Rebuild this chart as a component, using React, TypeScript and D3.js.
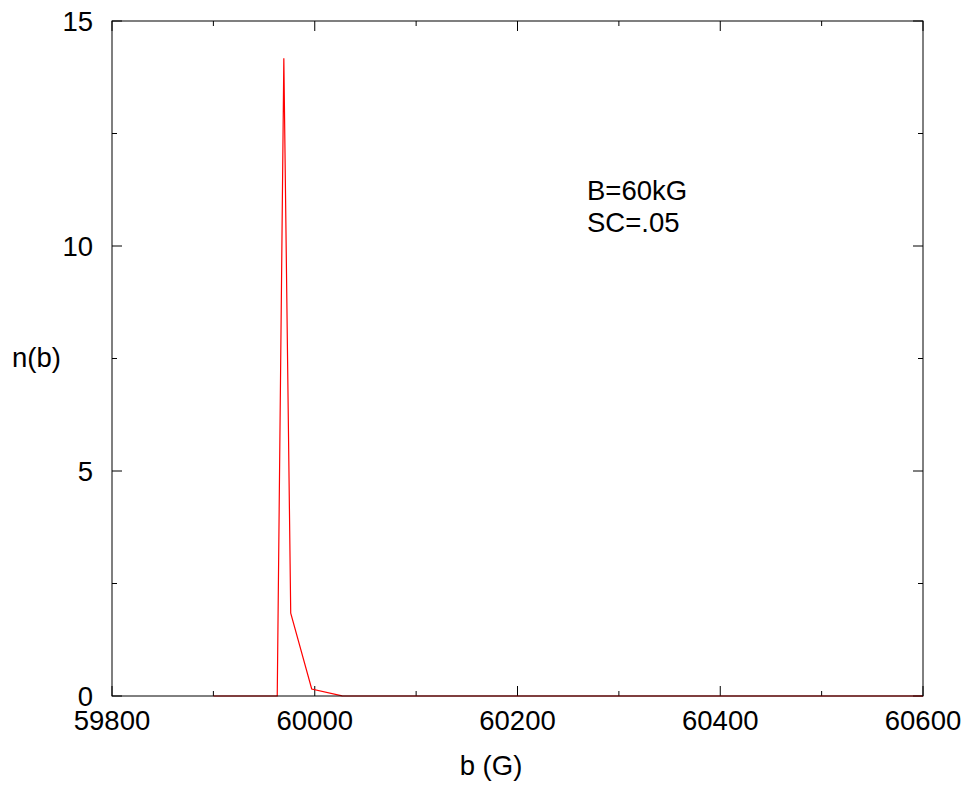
import React from "react";
import * as d3 from "d3";

const bValues = [59900, 59963, 59969.5, 59976.3, 59997, 60027, 60100, 60300, 60600];
const nValues = [0, 0, 14.17, 1.84, 0.155, 0.004, 0, 0, 0];
const xMajorTicks = [59800, 60000, 60200, 60400, 60600];
const xMinorTicks = [59900, 60100, 60300, 60500];
const yMajorTicks = [0, 5, 10, 15];
const yMinorTicks = [2.5, 7.5, 12.5];
const annotation = ["B=60kG", "SC=.05"];

const W = 971, H = 786;
const L = 112, R = 923, T = 21, B = 696;
const FONT = "'Liberation Sans', Arial, sans-serif";

export default function App() {
  const x = d3.scaleLinear().domain([59800, 60600]).range([L, R]);
  const y = d3.scaleLinear().domain([0, 15]).range([B, T]);
  const data = bValues.map((b, i) => [b, nValues[i]] as [number, number]);
  const line = d3.line<[number, number]>().x(d => x(d[0])).y(d => y(d[1]));
  const fs = 27.5;
  return (
    <svg width={W} height={H} style={{ position: "absolute", left: 0, top: 0, background: "#fff" }}>
      <rect x={0} y={0} width={W} height={H} fill="#fff" />
      {/* ticks */}
      {xMajorTicks.map(t => (
        <g key={"xm" + t}>
          <line x1={x(t)} x2={x(t)} y1={B} y2={B - 10} stroke="#000" />
          <line x1={x(t)} x2={x(t)} y1={T} y2={T + 10} stroke="#000" />
          <text x={x(t)} y={730} textAnchor="middle" fontFamily={FONT} fontSize={fs} fill="#000">{t}</text>
        </g>
      ))}
      {xMinorTicks.map(t => (
        <g key={"xn" + t}>
          <line x1={x(t)} x2={x(t)} y1={B} y2={B - 5} stroke="#000" />
          <line x1={x(t)} x2={x(t)} y1={T} y2={T + 5} stroke="#000" />
        </g>
      ))}
      {yMajorTicks.map(t => (
        <g key={"ym" + t}>
          <line x1={L} x2={L + 10} y1={y(t)} y2={y(t)} stroke="#000" />
          <line x1={R} x2={R - 10} y1={y(t)} y2={y(t)} stroke="#000" />
          <text x={93} y={y(t)} dy="0.35em" textAnchor="end" fontFamily={FONT} fontSize={fs} fill="#000">{t}</text>
        </g>
      ))}
      {yMinorTicks.map(t => (
        <g key={"yn" + t}>
          <line x1={L} x2={L + 5} y1={y(t)} y2={y(t)} stroke="#000" />
          <line x1={R} x2={R - 5} y1={y(t)} y2={y(t)} stroke="#000" />
        </g>
      ))}
      <path d={line(data) || ""} fill="none" stroke="#ff0000" strokeWidth={1.2} />
      <rect x={L} y={T} width={R - L} height={B - T} fill="none" stroke="#000" strokeWidth={1} />
      <text x={491} y={775} textAnchor="middle" fontFamily={FONT} fontSize={fs} fill="#000">b (G)</text>
      <text x={12} y={367} fontFamily={FONT} fontSize={fs} fill="#000">n(b)</text>
      {annotation.map((s, i) => (
        <text key={s} x={587} y={200 + i * 32} fontFamily={FONT} fontSize={fs} fill="#000">{s}</text>
      ))}
    </svg>
  );
}
